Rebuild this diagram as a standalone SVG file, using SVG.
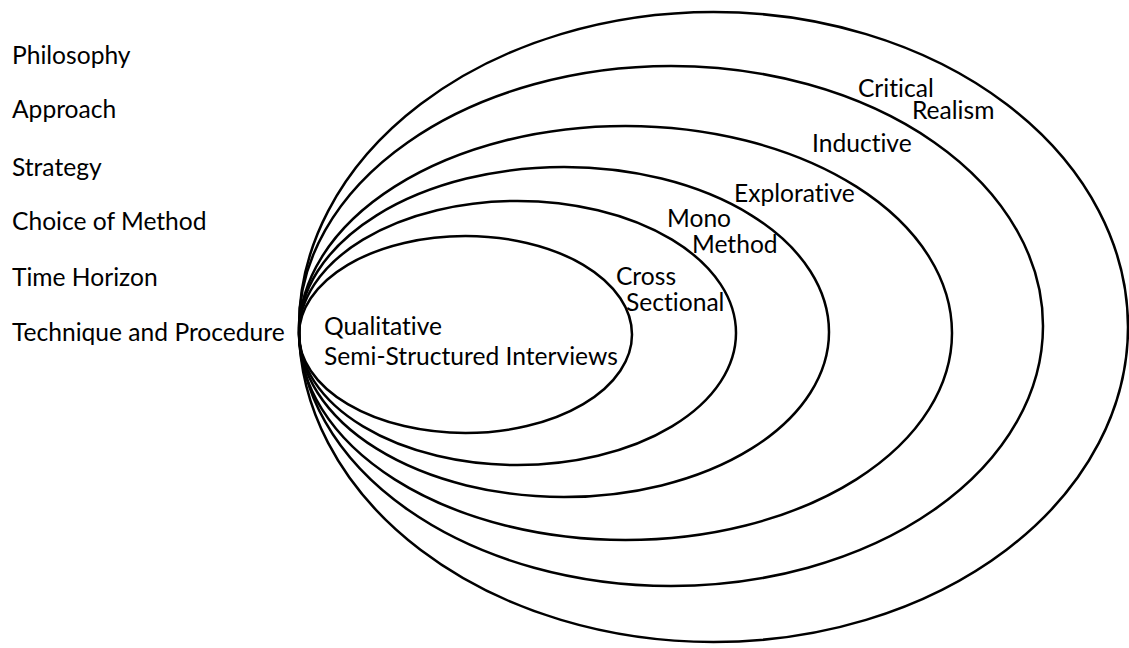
<svg xmlns="http://www.w3.org/2000/svg" width="1129" height="648" viewBox="0 0 1129 648">
  <style>
    .ring { fill: none; stroke: #000; stroke-width: 2.5; }
    .lbl { font-family: Lato, "Liberation Sans", sans-serif; font-size: 24.6px; fill: #000; font-variant-ligatures: none; }
  </style>
  <rect width="1129" height="648" fill="#fff"/>

  <!-- level names on the left -->
  <g id="levels">
    <text class="lbl" x="12" y="64">Philosophy</text>
    <text class="lbl" x="12" y="118">Approach</text>
    <text class="lbl" x="12" y="176">Strategy</text>
    <text class="lbl" x="12" y="230">Choice of Method</text>
    <text class="lbl" x="12" y="286">Time Horizon</text>
    <text class="lbl" x="12" y="341">Technique and Procedure</text>
  </g>

  <!-- nested layers, all touching at the left -->
  <g id="layer-philosophy">
    <ellipse class="ring" cx="713.5" cy="327" rx="414.5" ry="315"/>
    <text class="lbl" x="858" y="97">Critical</text>
    <text class="lbl" x="912" y="119">Realism</text>
  </g>
  <g id="layer-approach">
    <ellipse class="ring" cx="671" cy="326" rx="372" ry="260"/>
    <text class="lbl" x="812" y="152">Inductive</text>
  </g>
  <g id="layer-strategy">
    <ellipse class="ring" cx="625.5" cy="333" rx="326.5" ry="207"/>
    <text class="lbl" x="734" y="202">Explorative</text>
  </g>
  <g id="layer-choice">
    <ellipse class="ring" cx="564" cy="332" rx="265" ry="165"/>
    <text class="lbl" x="667" y="227">Mono</text>
    <text class="lbl" x="692" y="253">Method</text>
  </g>
  <g id="layer-time">
    <ellipse class="ring" cx="517.5" cy="333" rx="218.5" ry="132"/>
    <text class="lbl" x="616" y="285">Cross</text>
    <text class="lbl" x="626" y="311">Sectional</text>
  </g>
  <g id="layer-technique">
    <ellipse class="ring" cx="465.5" cy="334.5" rx="166.5" ry="98.5"/>
    <text class="lbl" x="324" y="335">Qualitative</text>
    <text class="lbl" x="324" y="365">Semi-Structured Interviews</text>
  </g>
</svg>
